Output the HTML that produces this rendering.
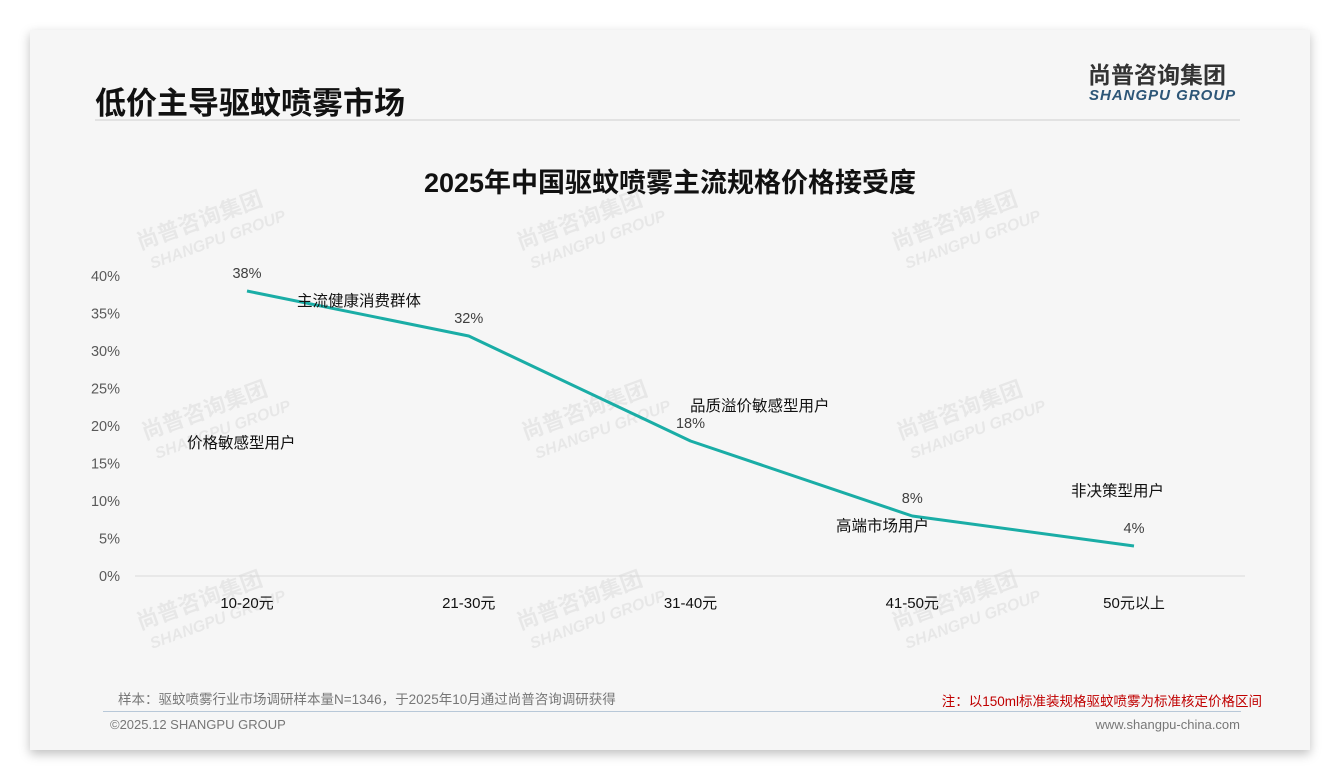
<!DOCTYPE html>
<html><head><meta charset="utf-8"><style>
body{margin:0;width:1340px;height:780px;background:#fff;position:relative;overflow:hidden;font-family:"Liberation Sans","Noto Sans CJK SC",sans-serif;}
.card{position:absolute;left:30px;top:30px;width:1280px;height:720px;background:#f6f6f6;box-shadow:0 4px 10px rgba(0,0,0,0.25);}
.abs{position:absolute;white-space:nowrap;}
</style></head><body>
<div class="card"></div>
<div class="abs" style="left:95px;top:78px;font-size:31px;font-weight:bold;color:#111;">低价主导驱蚊喷雾市场</div>
<div class="abs" style="left:1088px;top:64px;font-size:23px;line-height:1;font-weight:bold;color:#333;">尚普咨询集团</div>
<div class="abs" style="left:1089px;top:88px;font-size:15px;line-height:1;font-weight:bold;font-style:italic;color:#2d5677;letter-spacing:1px;">SHANGPU GROUP</div>
<div class="abs" style="left:95px;top:119px;width:1145px;height:2px;background:#e2e2e2;"></div>
<div class="abs" style="left:0;width:1340px;text-align:center;top:161px;font-size:27px;font-weight:bold;color:#111;">2025年中国驱蚊喷雾主流规格价格接受度</div>
<svg id="chart" width="1340" height="780" style="position:absolute;left:0;top:0;"></svg>
<div class="abs" style="left:118px;top:688px;font-size:13.5px;color:#777;">样本：驱蚊喷雾行业市场调研样本量N=1346，于2025年10月通过尚普咨询调研获得</div>
<div class="abs" style="right:78px;top:690px;font-size:13.5px;color:#c00000;">注：以150ml标准装规格驱蚊喷雾为标准核定价格区间</div>
<div class="abs" style="left:103px;top:711px;width:1138px;height:1px;background:#b8c8d8;"></div>
<div class="abs" style="left:110px;top:717px;font-size:13px;color:#777;">©2025.12 SHANGPU GROUP</div>
<div class="abs" style="right:100px;top:717px;font-size:13px;color:#777;">www.shangpu-china.com</div>
<script>
const categories=["10-20元","21-30元","31-40元","41-50元","50元以上"];
const values=[38,32,18,8,4];
const yTicks=[0,5,10,15,20,25,30,35,40];
const annotations=["价格敏感型用户","主流健康消费群体","品质溢价敏感型用户","高端市场用户","非决策型用户"];
const annoPos=[[187,443],[297,301],[690,406],[836,526],[1071,491]];
const wmPos=[[140,250],[520,250],[895,250],[145,440],[525,440],[900,440],[140,630],[520,630],[895,630]];
const svg=document.getElementById('chart');
const NS='http://www.w3.org/2000/svg';
const x=i=>247+i*221.75;
const y=v=>576-v*7.5;
function mk(t,a){const e=document.createElementNS(NS,t);for(const k in a)e.setAttribute(k,a[k]);svg.appendChild(e);return e;}
wmPos.forEach(p=>{
 const g=mk('text',{x:p[0],y:p[1],'font-size':22,'font-weight':'bold',fill:'rgba(0,0,0,0.06)',transform:`rotate(-20 ${p[0]} ${p[1]})`,'font-family':'Liberation Sans, Noto Sans CJK SC, sans-serif'});
 g.textContent='尚普咨询集团';
 
 
 const g2=mk('text',{x:p[0]+5,y:p[1]+22,'font-size':16,'font-weight':'bold','font-style':'italic',fill:'rgba(0,0,0,0.06)',transform:`rotate(-20 ${p[0]} ${p[1]})`,'font-family':'Liberation Sans, sans-serif'});
 g2.textContent='SHANGPU GROUP';
 
 
});
const ax=mk('line',{x1:135,x2:1245,y1:y(0),y2:y(0),stroke:'#d9d9d9','stroke-width':1});


yTicks.forEach(t=>{
 const e=mk('text',{x:120,y:y(t)+5,'text-anchor':'end','font-size':14.5,fill:'#595959','font-family':'Liberation Sans, sans-serif'});
 e.textContent=t+'%';
 
 
});
categories.forEach((c,i)=>{
 const e=mk('text',{x:x(i),y:608,'text-anchor':'middle','font-size':15,fill:'#111','font-family':'Liberation Sans, Noto Sans CJK SC, sans-serif'});
 e.textContent=c;
 
 
});
const pl=mk('polyline',{points:values.map((v,i)=>x(i)+','+y(v)).join(' '),fill:'none',stroke:'#1aada6','stroke-width':3,'stroke-linejoin':'round'});


values.forEach((v,i)=>{
 const e=mk('text',{x:x(i),y:y(v)-13,'text-anchor':'middle','font-size':14.5,fill:'#404040','font-family':'Liberation Sans, sans-serif'});
 e.textContent=v+'%';
 
 
});
annotations.forEach((a,i)=>{
 const e=mk('text',{x:annoPos[i][0],y:annoPos[i][1]+5,'font-size':15.5,fill:'#111','font-family':'Liberation Sans, Noto Sans CJK SC, sans-serif'});
 e.textContent=a;
 
 
});
</script>
</body></html>
